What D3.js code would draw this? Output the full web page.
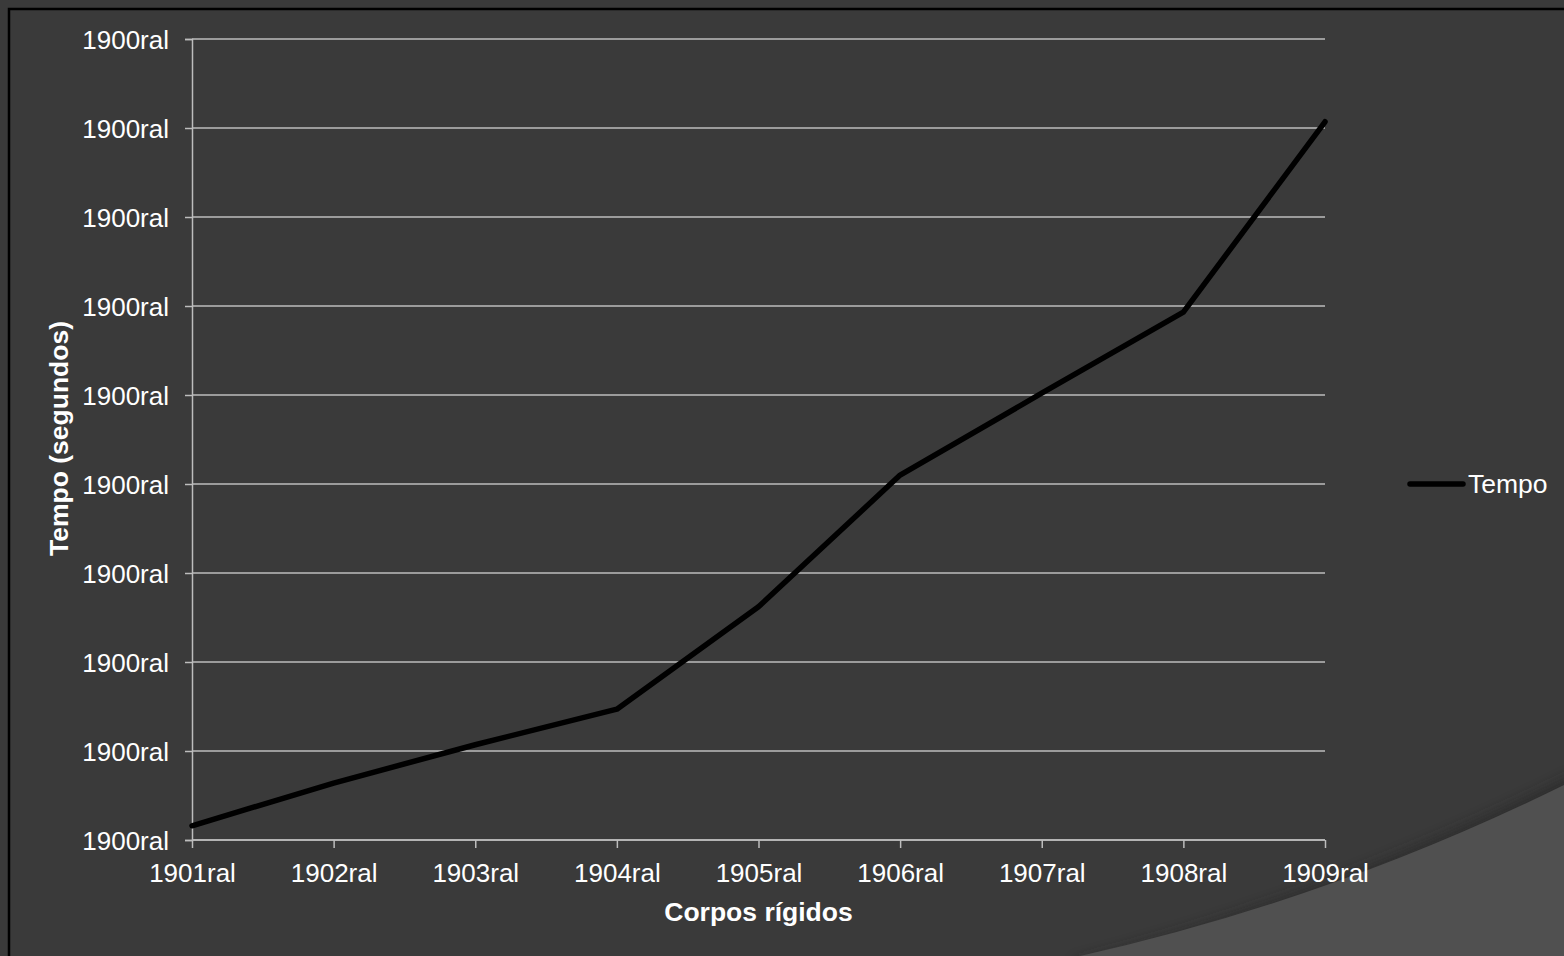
<!DOCTYPE html>
<html>
<head>
<meta charset="utf-8">
<script src="https://cdn.jsdelivr.net/npm/d3@7"></script>
<style>
  html, body { margin: 0; padding: 0; background: #3a3a3a; }
  svg { display: block; }
  text { font-family: "Liberation Sans", Arial, sans-serif; fill: #ffffff; }
</style>
</head>
<body>
<svg id="chart" width="1564" height="956"></svg>
<script>
// Series data: rigid-body count categories and timing values
const categories = ["1901ral", "1902ral", "1903ral", "1904ral", "1905ral", "1906ral", "1907ral", "1908ral", "1909ral"];
const tempo = [0.16, 0.64, 1.07, 1.47, 2.62, 4.10, 5.02, 5.93, 8.07];
const yTickValues = [0, 1, 2, 3, 4, 5, 6, 7, 8, 9];
const yTickLabels = ["1900ral", "1900ral", "1900ral", "1900ral", "1900ral", "1900ral", "1900ral", "1900ral", "1900ral", "1900ral"];
const seriesName = "Tempo";
const xTitle = "Corpos rígidos";
const yTitle = "Tempo (segundos)";

const W = 1564, H = 956;
const svg = d3.select("#chart");

// Background and decorative swoosh
svg.append("rect").attr("width", W).attr("height", H).attr("fill", "#3a3a3a");
const defs = svg.append("defs");
defs.append("filter").attr("id", "soft")
  .append("feGaussianBlur").attr("stdDeviation", 6);
svg.append("path")
  .attr("d", "M 1070 966 Q 1330 900 1574 778 L 1574 966 Z")
  .attr("fill", "#262626").attr("opacity", 0.6)
  .attr("filter", "url(#soft)")
  .attr("transform", "translate(0,-4)");
svg.append("path")
  .attr("d", "M 1080 956 Q 1330 900 1564 785 L 1564 956 Z")
  .attr("fill", "#505050");

// Frame
svg.append("rect").attr("x", 9).attr("y", 9).attr("width", 1700).attr("height", 1100)
  .attr("fill", "none").attr("stroke", "#000").attr("stroke-width", 2.5);

const plotL = 192, plotR = 1325, plotT = 39, plotB = 840;
const x = d3.scalePoint().domain(categories).range([plotL, plotR]);
const y = d3.scaleLinear().domain([0, 9]).range([plotB, plotT]);

const gridColor = "#bdbdbd";

// Horizontal gridlines
svg.append("g").selectAll("line").data(yTickValues).join("line")
  .attr("x1", plotL).attr("x2", plotR)
  .attr("y1", d => y(d)).attr("y2", d => y(d))
  .attr("stroke", gridColor).attr("stroke-width", 1.5);

// Y axis
const yAxis = d3.axisLeft(y).tickValues(yTickValues)
  .tickFormat((d, i) => yTickLabels[i]).tickSize(7).tickPadding(16);
const gy = svg.append("g").attr("transform", `translate(${plotL},0)`).call(yAxis);
gy.select(".domain").attr("stroke", gridColor).attr("stroke-width", 1.5);
gy.selectAll(".tick line").attr("stroke", gridColor).attr("stroke-width", 1.5);
gy.selectAll(".tick text").attr("font-size", 26).attr("fill", "#fff")
  .attr("font-family", "'Liberation Sans', Arial, sans-serif").attr("dy", "0.35em");

// X axis
const xAxis = d3.axisBottom(x).tickSize(8).tickPadding(16);
const gx = svg.append("g").attr("transform", `translate(0,${plotB})`).call(xAxis);
gx.select(".domain").attr("stroke", gridColor).attr("stroke-width", 1.5)
  .attr("d", `M${plotL},0H${plotR}`);
gx.selectAll(".tick line").attr("stroke", gridColor).attr("stroke-width", 1.5);
gx.selectAll(".tick text").attr("font-size", 26).attr("fill", "#fff")
  .attr("font-family", "'Liberation Sans', Arial, sans-serif");

// Series line
const line = d3.line().x((d, i) => x(categories[i])).y(d => y(d));
svg.append("path").datum(tempo)
  .attr("d", line)
  .attr("fill", "none").attr("stroke", "#000").attr("stroke-width", 5.5)
  .attr("stroke-linejoin", "round").attr("stroke-linecap", "round");

// Axis titles
svg.append("text").attr("x", (plotL + plotR) / 2).attr("y", 921)
  .attr("text-anchor", "middle").attr("font-size", 26.5).attr("font-weight", "bold")
  .text(xTitle);
svg.append("text").attr("transform", `translate(68,${(plotT + plotB) / 2 - 1}) rotate(-90)`)
  .attr("text-anchor", "middle").attr("font-size", 26.5).attr("font-weight", "bold")
  .text(yTitle);

// Legend
const lg = svg.append("g").attr("transform", "translate(1410,484)");
lg.append("line").attr("x1", 0).attr("x2", 53).attr("y1", 0).attr("y2", 0)
  .attr("stroke", "#000").attr("stroke-width", 5.5).attr("stroke-linecap", "round");
lg.append("text").attr("x", 58).attr("y", 0).attr("dy", "0.35em")
  .attr("font-size", 26.5).text(seriesName);
</script>
</body>
</html>
